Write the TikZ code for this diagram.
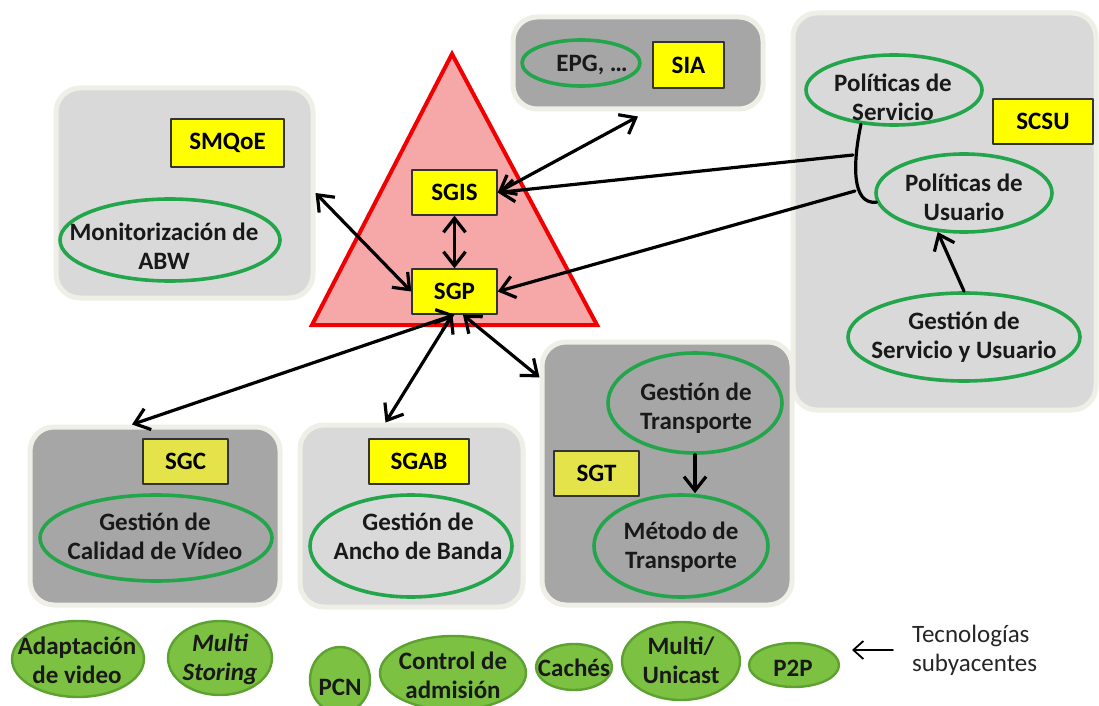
\documentclass[tikz,border=0pt]{standalone}
\usepackage{fontspec}
\setmainfont{Carlito}
\usepackage{tikz}
\usetikzlibrary{arrows.meta,shapes.geometric}

\definecolor{lgrey}{HTML}{D9D9D9}
\definecolor{dgrey}{HTML}{A6A6A6}
\definecolor{halo}{HTML}{EFEFE8}
\definecolor{tripink}{HTML}{F6A7A7}
\definecolor{trired}{HTML}{F00000}
\definecolor{boxyellow}{HTML}{FFFF00}
\definecolor{dullyellow}{HTML}{E4E44A}
\definecolor{ringgreen}{HTML}{22A54B}
\definecolor{techfill}{HTML}{7CC142}
\definecolor{techdraw}{HTML}{5DA231}

\newcommand\diagfont{\fontsize{12.5}{14.5}\selectfont}

\tikzset{
  dims/.style 2 args={minimum width=#1pt, minimum height=#2pt},
  panel/.style={rounded corners=12pt, draw=halo, line width=2.5pt, inner sep=0pt},
  lpanel/.style={panel, fill=lgrey},
  dpanel/.style={panel, fill=dgrey},
  ybox/.style={draw=black!80, line width=0.7pt, fill=boxyellow, inner sep=0pt, font=\diagfont\bfseries},
  dbox/.style={ybox, fill=dullyellow},
  ring/.style={ellipse, draw=ringgreen, line width=1.8pt, inner sep=0pt},
  tech/.style={ellipse, draw=techdraw, fill=techfill, line width=1.2pt, inner sep=0pt},
  txt/.style={align=center, text=black!90, font=\diagfont\bfseries},
  conn/.style={line width=1.6pt, black},
  thinarrow/.style={line width=0.9pt, -{Straight Barb[length=5pt,width=9pt]}},
}

\begin{document}
\begin{tikzpicture}[x=0.5pt,y=-0.5pt,line cap=round,line join=round,>={Straight Barb[length=7pt,width=11pt]}]
        \useasboundingbox (0,0) rectangle (1099,706);
        % panels
        \node[lpanel, dims={128.5}{105}] (smqoep) at (184.5,193) {};
        \node[dpanel, dims={125}{46}] (siap) at (638,63) {};
        \node[lpanel, dims={151.5}{198.5}] (scsup) at (944.5,211.5) {};
        \node[dpanel, dims={125}{89}] (sgcp) at (155,516) {};
        \node[lpanel, dims={111.5}{91}] (sgabp) at (411.5,516) {};
        \node[dpanel, dims={125}{131.5}] (sgtp) at (667,473.5) {};
        \draw[fill=tripink, draw=trired, line width=2pt, line join=miter] (452,54) -- (597,325) -- (312,325) -- cycle;
        % subsystems
        \node[ybox, dims={56.5}{24}] (smqoe) at (227.5,143) {SMQoE};
        \node[ybox, dims={35.5}{23}] (sia) at (688.5,65) {SIA};
        \node[ybox, dims={42.5}{22.5}] (sgis) at (454.5,192.5) {SGIS};
        \node[ybox, dims={42.5}{22.5}] (sgp) at (454.5,291.5) {SGP};
        \node[ybox, dims={50}{22.5}] (scsu) at (1043,121.5) {SCSU};
        \node[dbox, dims={42.5}{22.5}] (sgc) at (185.5,461.5) {SGC};
        \node[ybox, dims={50}{22.5}] (sgab) at (419,461.5) {SGAB};
        \node[dbox, dims={42.5}{22.5}] (sgt) at (596.5,473.5) {SGT};
        % functions
        \node[ring, dims={110}{41}] (monabw) at (170,240) {};
        \node[txt] (monabw-t) at (164,246) {Monitorización de\\ABW};
        \node[ring, dims={59}{23}] (epg) at (581,63) {};
        \node[txt] (epg-t) at (592,65) {EPG, …};
        \node[ring, dims={88}{35}] (polserv) at (894,90) {};
        \node[txt] (polserv-t) at (893,97) {Políticas de\\Servicio};
        \node[ring, dims={88}{39}] (polusu) at (964,193) {};
        \node[txt] (polusu-t) at (964,197) {Políticas de\\Usuario};
        \node[ring, dims={116}{44}] (gsu) at (964,337) {};
        \node[txt] (gsu-t) at (964,337) {Gestión de\\Servicio y Usuario};
        \node[ring, dims={116}{43}] (calidad) at (156,538) {};
        \node[txt] (calidad-t) at (155,536) {Gestión de\\Calidad de Vídeo};
        \node[ring, dims={101}{51}] (ancho) at (411,546) {};
        \node[txt] (ancho-t) at (418,536) {Gestión de\\Ancho de Banda};
        \node[ring, dims={87}{50}] (gtrans) at (695,403) {};
        \node[txt] (gtrans-t) at (696,408) {Gestión de\\Transporte};
        \node[ring, dims={87}{51}] (metodo) at (681,546) {};
        \node[txt] (metodo-t) at (681,547) {Método de\\Transporte};
        % technologies
        \node[tech, dims={66}{38}] (adapt) at (78,659) {};
        \node[txt] (adapt-t) at (77,660) {Adaptación\\de video};
        \node[tech, dims={52}{37}] (mstor) at (220,658) {};
        \node[txt, font=\diagfont\bfseries\itshape] (mstor-t) at (220,659) {Multi\\Storing};
        \node[tech, dims={30}{33}] (pcn) at (340,680) {};
        \node[txt] (pcn-t) at (340,687) {PCN};
        \node[tech, dims={73}{37}] (ctrl) at (453,673) {};
        \node[txt] (ctrl-t) at (453,675) {Control de\\admisión};
        \node[tech, dims={38}{23}] (caches) at (574,667) {};
        \node[txt] (caches-t) at (574,668) {Cachés};
        \node[tech, dims={59}{39}] (multi) at (681,661) {};
        \node[txt] (multi-t) at (681,660) {Multi/\\Unicast};
        \node[tech, dims={45}{22}] (p2p) at (794,665) {};
        \node[txt] (p2p-t) at (793,668) {P2P};
        \node[align=left, text=black!85, font=\diagfont, anchor=west] (tec) at (905,650) {Tecnologías\\subyacentes};
        % connectors
        \coordinate (jserv) at (853,155);
        \coordinate (jusu) at (855,191);
        \coordinate (tecend) at (852,650);
        \draw[conn, <->] (smqoep.east) -- (sgp.west);
        \draw[conn, <->] (sgis.south) -- (sgp.north);
        \draw[conn, <->] (sgis.east) -- ([yshift=-2.5pt]siap.south);
        \draw[conn, ->] (jserv) -- (sgis.east);
        \draw[conn, ->] (jusu) -- (sgp.east);
        \draw[conn] (polserv.226) .. controls (853,162) and (851,205) .. (polusu.186);
        \draw[conn, <->] (sgp.south) -- ([xshift=-11.5pt]sgcp.north);
        \draw[conn, <->] (sgp.-95) -- ([xshift=-13pt]sgabp.north);
        \draw[conn, <->] (sgp.-70) -- (sgtp.143);
        \draw[conn, ->] (gtrans.south) -- (gtrans.south |- metodo.north);
        \draw[conn, ->] (gsu.north) -- (polusu.236);
        \draw[thinarrow] ([xshift=-6pt]tec.west) -- (tecend);
\end{tikzpicture}
\end{document}
